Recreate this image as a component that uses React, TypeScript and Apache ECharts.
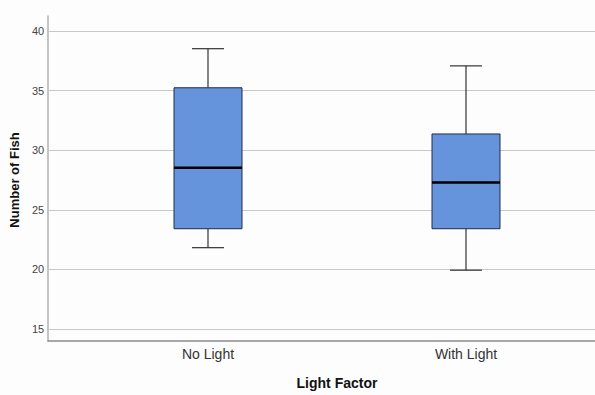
import React, { useEffect, useRef } from "react";
import * as echarts from "echarts";

const categories = ["No Light", "With Light"];
// [min, Q1, median, Q3, max]
const noLight = [21.7, 23.3, 28.45, 35.2, 38.5];
const withLight = [19.8, 23.3, 27.2, 31.3, 37.05];
const yTicks = [15, 20, 25, 30, 35, 40];

const FONT = "'Liberation Sans', Arial, sans-serif";

export default function App() {
  const ref = useRef<HTMLDivElement>(null);
  useEffect(() => {
    if (!ref.current) return;
    const chart = echarts.init(ref.current, undefined, { renderer: "svg" });
    const boxes = [noLight, withLight].map((v, i) => [i, ...v]);
    const option: any = {
      animation: false,
      backgroundColor: "#fdfdfd",
      grid: [
        { left: 48, right: 0, top: 16, bottom: 54 },
        { left: 48, right: 0, top: 31, bottom: 66 },
        { left: 79, right: 0, top: 16, bottom: 54 },
      ],
      xAxis: [
        {
          gridIndex: 0, type: "value", min: 0, max: 1,
          axisLine: { show: true, lineStyle: { color: "#8a8a8a", width: 1.5 } },
          axisTick: { show: false }, axisLabel: { show: false }, splitLine: { show: false },
        },
        {
          gridIndex: 1, type: "value", min: 0, max: 1, show: false,
        },
        {
          gridIndex: 2, type: "category", data: categories,
          axisLine: { show: false }, axisTick: { show: false },
          axisLabel: { color: "#333", fontSize: 14, fontFamily: FONT, margin: 8 },
          name: "Light Factor", nameLocation: "middle", nameGap: 37,
          nameTextStyle: { color: "#111", fontSize: 14, fontWeight: "bold", fontFamily: FONT, verticalAlign: "top" },
        },
      ],
      yAxis: [
        {
          gridIndex: 0, type: "value", min: 0, max: 1,
          axisLine: { show: true, lineStyle: { color: "#b0b0b0", width: 1.5 } },
          axisTick: { show: false }, axisLabel: { show: false }, splitLine: { show: false },
        },
        {
          gridIndex: 1, type: "value", min: yTicks[0], max: yTicks[yTicks.length - 1], interval: 5,
          axisLine: { show: false }, axisTick: { show: false },
          axisLabel: { color: "#444", fontSize: 11, fontFamily: FONT, margin: 5 },
          splitLine: { show: true, lineStyle: { color: "#c8c8c8", width: 1 } },
          name: "Number of Fish", nameLocation: "middle", nameGap: 22,
          nameTextStyle: { color: "#111", fontSize: 13, fontWeight: "bold", fontFamily: FONT },
        },
        {
          gridIndex: 2, type: "value", min: 13.99, max: 41.26, show: false,
        },
      ],
      series: [
        {
          type: "custom",
          xAxisIndex: 2,
          yAxisIndex: 2,
          data: boxes,
          encode: { x: 0, y: [1, 2, 3, 4, 5] },
          renderItem: (params: any, api: any) => {
            const x = api.value(0);
            const pMin = api.coord([x, api.value(1)]);
            const pQ1 = api.coord([x, api.value(2)]);
            const pMed = api.coord([x, api.value(3)]);
            const pQ3 = api.coord([x, api.value(4)]);
            const pMax = api.coord([x, api.value(5)]);
            const cx = pMin[0];
            const bw = 68;
            const cw = 32;
            const lineStyle = { stroke: "#333", lineWidth: 1.2 };
            return {
              type: "group",
              children: [
                { type: "line", shape: { x1: cx, y1: pMax[1], x2: cx, y2: pQ3[1] }, style: lineStyle },
                { type: "line", shape: { x1: cx, y1: pQ1[1], x2: cx, y2: pMin[1] }, style: lineStyle },
                { type: "line", shape: { x1: cx - cw / 2, y1: pMax[1], x2: cx + cw / 2, y2: pMax[1] }, style: lineStyle },
                { type: "line", shape: { x1: cx - cw / 2, y1: pMin[1], x2: cx + cw / 2, y2: pMin[1] }, style: lineStyle },
                {
                  type: "rect",
                  shape: { x: cx - bw / 2, y: pQ3[1], width: bw, height: pQ1[1] - pQ3[1] },
                  style: { fill: "#6694dc", stroke: "#1f2d4a", lineWidth: 1 },
                },
                {
                  type: "line",
                  shape: { x1: cx - bw / 2, y1: pMed[1], x2: cx + bw / 2, y2: pMed[1] },
                  style: { stroke: "#000", lineWidth: 2.5 },
                },
              ],
            };
          },
        },
      ],
    };
    chart.setOption(option);
    return () => chart.dispose();
  }, []);
  return (
    <div
      ref={ref}
      style={{ position: "fixed", left: 0, top: 0, width: 595, height: 395 }}
    />
  );
}
